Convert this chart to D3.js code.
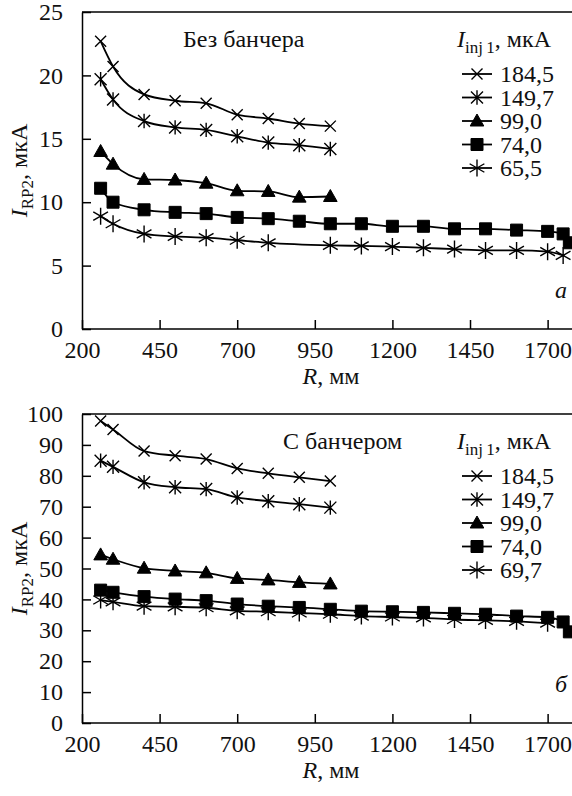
<!DOCTYPE html>
<html>
<head>
<meta charset="utf-8">
<script src="https://cdn.jsdelivr.net/npm/d3@7"></script>
</head>
<body style="margin:0">
<div id="container"></div>
<script>
// R positions, mm
const rShort = [260, 300, 400, 500, 600, 700, 800, 900, 1000]
const rLong = [260, 300, 400, 500, 600, 700, 800, 900, 1000, 1100, 1200, 1300, 1400, 1500, 1600, 1700, 1750, 1770]
const rTop65 = [260, 300, 400, 500, 600, 700, 800, 1000, 1100, 1200, 1300, 1400, 1500, 1600, 1700, 1750]
const rBot69 = [260, 300, 400, 500, 600, 700, 800, 900, 1000, 1100, 1200, 1300, 1400, 1500, 1600, 1700]

// panel a: без банчера, I_RP2 (мкА)
const topS184 = [22.7, 20.7, 18.5, 18.0, 17.8, 16.9, 16.6, 16.2, 16.0]
const topS149 = [19.7, 18.1, 16.4, 15.9, 15.7, 15.2, 14.7, 14.5, 14.2]
const topS99 = [14.0, 13.0, 11.8, 11.75, 11.5, 10.9, 10.85, 10.4, 10.45]
const topS74 = [11.1, 10.0, 9.4, 9.2, 9.1, 8.8, 8.7, 8.5, 8.3, 8.3, 8.1, 8.1, 7.9, 7.9, 7.8, 7.7, 7.5, 6.8]
const topS65 = [8.9, 8.3, 7.5, 7.3, 7.2, 7.0, 6.8, 6.6, 6.55, 6.5, 6.4, 6.3, 6.2, 6.2, 6.1, 5.8]

// panel б: с банчером
const botS184 = [97.7, 95.0, 88.0, 86.5, 85.4, 82.4, 80.8, 79.5, 78.3]
const botS149 = [84.9, 82.9, 77.9, 76.3, 75.7, 73.0, 71.8, 70.8, 69.7]
const botS99 = [54.4, 53.0, 50.1, 49.2, 48.6, 46.8, 46.3, 45.5, 45.0]
const botS74 = [43.0, 42.3, 40.9, 40.1, 39.6, 38.5, 37.8, 37.4, 36.8, 36.2, 36.0, 35.8, 35.5, 35.2, 34.6, 34.2, 32.7, 29.5]
const botS69 = [39.8, 39.2, 37.8, 37.6, 37.3, 36.3, 36.0, 35.6, 35.2, 34.6, 34.3, 34.0, 33.5, 33.2, 32.9, 32.3]

const xTicks = [200, 450, 700, 950, 1200, 1450, 1700]
const yTicksTop = [0, 5, 10, 15, 20, 25]
const yTicksBot = [0, 10, 20, 30, 40, 50, 60, 70, 80, 90, 100]

const legendTop = ["184,5", "149,7", "99,0", "74,0", "65,5"]
const legendBot = ["184,5", "149,7", "99,0", "74,0", "69,7"]
const markers = ["times", "star", "triangle", "square", "asterisk"]

const w = 572
const h = 796

const svg = d3.select("#container")
  .append("svg")
  .attr("width", w)
  .attr("height", h)
  .attr("font-family", "Liberation Serif")
  .style("display", "block")

svg.append("rect").attr("width", w).attr("height", h).attr("fill", "#fff")

const x = d3.scaleLinear().domain([200, 1785]).range([82, 574])

const markerPath = (type) => {
  if (type == "times") {
    const r = 5.5
    return `M${-r},${-r}L${r},${r}M${-r},${r}L${r},${-r}`
  } else if (type == "star") {
    const r = 6
    return `M${-r},${-r}L${r},${r}M${-r},${r}L${r},${-r}M0,${-r * 1.2}L0,${r * 1.2}`
  } else if (type == "asterisk") {
    const r = 8.5
    const a = r * Math.cos(Math.PI / 6)
    const b = r * Math.sin(Math.PI / 6)
    return `M0,${-r}L0,${r}M${-a},${-b}L${a},${b}M${-a},${b}L${a},${-b}`
  } else if (type == "triangle") {
    return "M0,-7L6.8,5L-6.8,5Z"
  } else {
    return "M-6,-6L6,-6L6,6L-6,6Z"
  }
}

const drawMarker = (g, type, cx, cy) => {
  const filled = type == "triangle" || type == "square"
  g.append("path")
    .attr("d", markerPath(type))
    .attr("transform", `translate(${cx},${cy})`)
    .attr("fill", filled ? "#000" : "none")
    .attr("stroke", "#000")
    .attr("stroke-width", filled ? 1 : 1.4)
}

const makePanel = (opts) => {
  const y = d3.scaleLinear().domain(opts.yDomain).range([opts.bottom, opts.top])
  const g = svg.append("g")

  // frame: top line (left and bottom come from the axes)
  g.append("line")
    .attr("x1", x(200)).attr("x2", w + 5)
    .attr("y1", y(opts.yDomain[1])).attr("y2", y(opts.yDomain[1]))
    .attr("stroke", "#000").attr("stroke-width", 1.5)

  const xAxis = d3.axisBottom(x).tickValues(xTicks).tickFormat(d3.format("d"))
    .tickSize(-9).tickSizeOuter(0).tickPadding(12)
  const gx = g.append("g").attr("transform", `translate(0,${opts.bottom})`).call(xAxis)
  gx.attr("font-family", "Liberation Serif").attr("font-size", 24)
  gx.select(".domain").attr("d", `M${x(200)},0H${w + 5}`).attr("stroke-width", 1.5)
  gx.selectAll(".tick line").attr("stroke-width", 1.5)
  gx.selectAll(".tick text").attr("dy", "0.71em")

  const yAxis = d3.axisLeft(y).tickValues(opts.yTicks).tickFormat(d3.format("d"))
    .tickSize(-9).tickSizeOuter(0).tickPadding(19)
  const gy = g.append("g").attr("transform", `translate(${x(200)},0)`).call(yAxis)
  gy.attr("font-family", "Liberation Serif").attr("font-size", 24)
  gy.select(".domain").attr("stroke-width", 1.5)
  gy.selectAll(".tick line").attr("stroke-width", 1.5)

  const line = d3.line()
    .x((d) => x(d[0]))
    .y((d) => y(d[1]))
    .curve(d3.curveMonotoneX)

  opts.series.forEach((s, i) => {
    const pts = s.r.map((r, j) => [r, s.v[j]])
    g.append("path")
      .attr("d", line(pts))
      .attr("fill", "none")
      .attr("stroke", "#000")
      .attr("stroke-width", 1.8)
    pts.forEach((p) => drawMarker(g, markers[i], x(p[0]), y(p[1])))
  })

  // in-plot caption
  g.append("text")
    .attr("x", opts.captionX).attr("y", opts.top + 35)
    .attr("font-size", 24)
    .text(opts.caption)

  // legend header
  const head = g.append("text").attr("x", 457).attr("y", opts.top + 35).attr("font-size", 24)
  head.append("tspan").attr("font-style", "italic").text("I")
  head.append("tspan").attr("font-size", 17).attr("dy", 6).text("inj\u20091")
  head.append("tspan").attr("dy", -6).text(", мкА")

  opts.legend.forEach((lab, i) => {
    const cy = opts.top + 62 + i * 23.5
    g.append("line")
      .attr("x1", 462).attr("x2", 492)
      .attr("y1", cy).attr("y2", cy)
      .attr("stroke", "#000").attr("stroke-width", 1.8)
    drawMarker(g, markers[i], 477, cy)
    g.append("text")
      .attr("x", 500).attr("y", cy + 8)
      .attr("font-size", 24)
      .text(lab)
  })

  // panel letter
  g.append("text")
    .attr("x", 567).attr("y", opts.bottom - 31)
    .attr("text-anchor", "end")
    .attr("font-size", 24)
    .attr("font-style", "italic")
    .text(opts.letter)

  // axis titles
  const xt = g.append("text")
    .attr("x", 331).attr("y", opts.bottom + 55)
    .attr("text-anchor", "middle")
    .attr("font-size", 24)
  xt.append("tspan").attr("font-style", "italic").text("R")
  xt.append("tspan").text(", мм")

  const yt = g.append("text")
    .attr("transform", `translate(27,${(opts.top + opts.bottom) / 2}) rotate(-90)`)
    .attr("text-anchor", "middle")
    .attr("font-size", 24)
  yt.append("tspan").attr("font-style", "italic").text("I")
  yt.append("tspan").attr("font-size", 17).attr("dy", 6).text("RP2")
  yt.append("tspan").attr("dy", -6).text(", мкА")
}

makePanel({
  yDomain: [0, 25], yTicks: yTicksTop, top: 12, bottom: 329,
  caption: "Без банчера", captionX: 183, letter: "а", legend: legendTop,
  series: [
    { r: rShort, v: topS184 },
    { r: rShort, v: topS149 },
    { r: rShort, v: topS99 },
    { r: rLong, v: topS74 },
    { r: rTop65, v: topS65 }
  ]
})

makePanel({
  yDomain: [0, 100], yTicks: yTicksBot, top: 414, bottom: 723,
  caption: "С банчером", captionX: 283, letter: "б", legend: legendBot,
  series: [
    { r: rShort, v: botS184 },
    { r: rShort, v: botS149 },
    { r: rShort, v: botS99 },
    { r: rLong, v: botS74 },
    { r: rBot69, v: botS69 }
  ]
})

svg.selectAll("text")
  .attr("font-family", "Liberation Serif")
  .attr("fill", "#111")
</script>
</body>
</html>
